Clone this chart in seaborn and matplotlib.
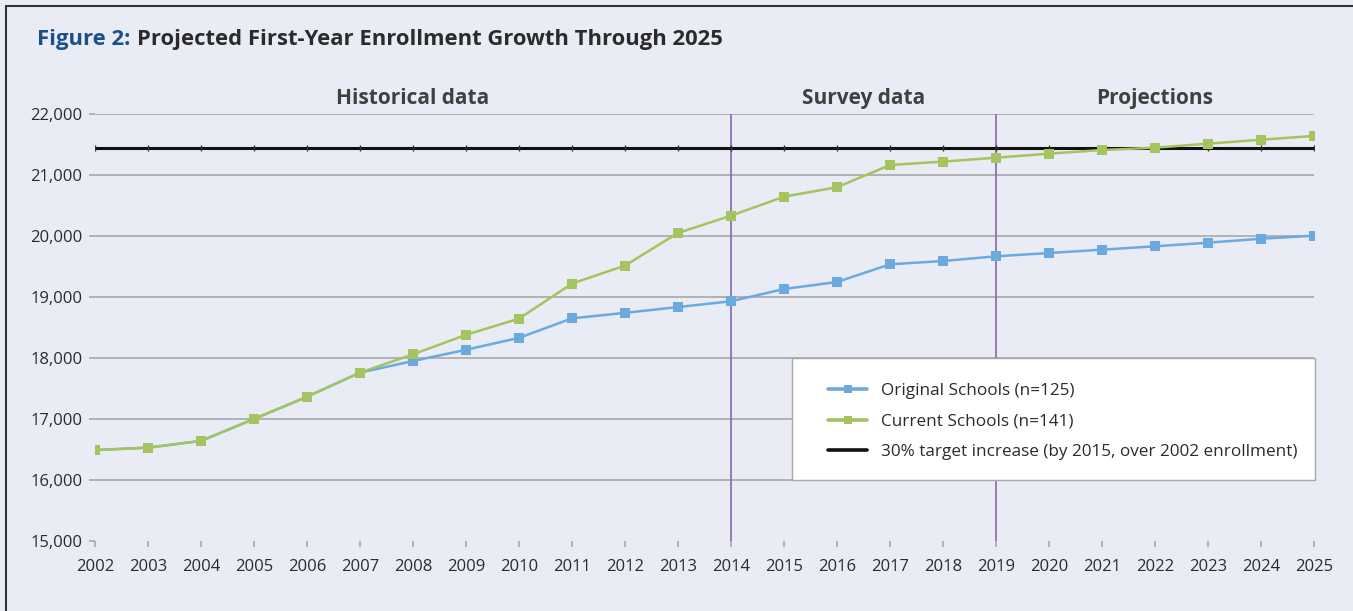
import matplotlib.pyplot as plt
import pandas as pd
import seaborn as sns
from matplotlib.lines import Line2D
from matplotlib.patches import Rectangle
from matplotlib.ticker import FuncFormatter

# Data
years = list(range(2002, 2026))
original_schools = [16490, 16530, 16640, 17000, 17365, 17760, 17950, 18135, 18330, 18650,
                    18740, 18835, 18930, 19131, 19246, 19536, 19590, 19667, 19721, 19776,
                    19831, 19890, 19956, 20005]
current_schools = [16490, 16530, 16640, 17000, 17365, 17760, 18060, 18380, 18645, 19220,
                   19515, 20050, 20333, 20645, 20800, 21164, 21220, 21284, 21350, 21410,
                   21448, 21514, 21579, 21640]
target_value = 21437
section_breaks = [2014, 2019]
section_labels = ["Historical data", "Survey data", "Projections"]
section_centers = [2008, 2016.5, 2022]

series_names = ["Original Schools (n=125)", "Current Schools (n=141)"]
target_name = "30% target increase (by 2015, over 2002 enrollment)"

df = pd.DataFrame({
    "Year": years * 2,
    "Enrollment": original_schools + current_schools,
    "Series": [series_names[0]] * len(years) + [series_names[1]] * len(years),
})

bg = "#E9ECF4"
blue = "#6AAADF"
green = "#A5C35F"
purple = "#8A67AE"
grid_gray = "#A8A8A8"
text_col = "#2B2B2B"

sns.set_theme(style="white")
plt.rcParams["font.family"] = ["Open Sans", "DejaVu Sans"]

fig = plt.figure(figsize=(13.53, 6.11), dpi=100, facecolor=bg)
ax = fig.add_axes([0.0702, 0.1146, 0.9010, 0.6988])
ax.set_facecolor(bg)

# Target line (with small year ticks on it, as in the original)
ax.axhline(target_value, color="#111111", lw=2.2, zorder=2)
ax.plot(years, [target_value] * len(years), ls="none", marker="|", markersize=5,
        markeredgewidth=1.0, color="#333333", zorder=2)

# Section dividers
for b in section_breaks:
    ax.axvline(b, color=purple, lw=1.2, zorder=1)

sns.lineplot(
    data=df, x="Year", y="Enrollment", hue="Series", style="Series",
    palette={series_names[0]: blue, series_names[1]: green},
    markers={series_names[0]: "s", series_names[1]: "s"},
    dashes=False, markersize=7, markeredgewidth=0, linewidth=1.8,
    ax=ax, legend=False, zorder=3,
)

ax.set_xlim(2002, 2025)
ax.set_ylim(15000, 22000)
ax.set_xticks(years)
ax.set_yticks(range(15000, 22001, 1000))
ax.yaxis.set_major_formatter(FuncFormatter(lambda v, p: f"{int(v):,}"))
ax.set_xlabel("")
ax.set_ylabel("")
for s in ax.spines.values():
    s.set_visible(False)
ax.grid(axis="y", color=grid_gray, lw=1.2)
ax.grid(axis="x", visible=False)
ax.get_ygridlines()[0].set_visible(False)
ax.tick_params(axis="both", length=4, width=1.2, color=grid_gray, labelsize=12,
               labelcolor=text_col, pad=5, bottom=True, left=True)
ax.tick_params(axis="x", pad=9)

# Section labels
for lab, cx in zip(section_labels, section_centers):
    ax.text(cx, 1.036, lab, transform=ax.get_xaxis_transform(), ha="center", va="center",
            fontsize=15, fontweight="bold", color="#404040")

# Legend: white box drawn separately so the padding matches the original
ax.add_patch(Rectangle((0.5718, 0.1429), 0.429, 0.2857, transform=ax.transAxes,
                       facecolor="white", edgecolor=grid_gray, lw=1.0, zorder=4,
                       clip_on=False))
handles = [
    Line2D([], [], color=blue, lw=2.6, marker="s", markersize=6, markeredgewidth=0),
    Line2D([], [], color=green, lw=2.6, marker="s", markersize=6, markeredgewidth=0),
    Line2D([], [], color="#111111", lw=2.6),
]
leg = ax.legend(handles, series_names + [target_name], loc="center left",
                bbox_to_anchor=(0.6013, 0.2795), fontsize=12.3, frameon=False,
                borderpad=0, handlelength=2.3, handletextpad=0.8,
                labelspacing=0.86, borderaxespad=0)
leg.set_zorder(5)
for t in leg.get_texts():
    t.set_color(text_col)

# Title
title_y = 1 - 40 / 611
t1 = fig.text(37 / 1353, title_y, "Figure 2:", fontsize=15.8, fontweight="bold",
              color="#1B4F8A", va="center", ha="left")
fig.canvas.draw()
bb = t1.get_window_extent()
fig.text((bb.x1 + 7) / 1353, title_y, "Projected First-Year Enrollment Growth Through 2025",
         fontsize=15.8, fontweight="bold", color="#2B2B2B", va="center", ha="left")

# Panel border (top and left)
fig.add_artist(Line2D([6 / 1353, 6 / 1353], [0, 1 - 6 / 611], color="#333333", lw=1.5))
fig.add_artist(Line2D([6 / 1353, 1], [1 - 6 / 611, 1 - 6 / 611], color="#333333", lw=1.5))

fig.savefig("out.png", dpi=100, facecolor=bg)
